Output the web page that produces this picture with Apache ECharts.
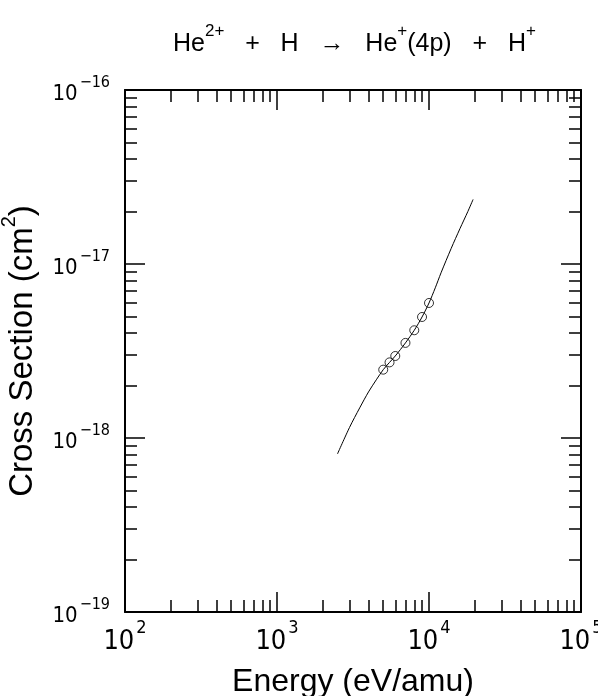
<!DOCTYPE html>
<html>
<head>
<meta charset="utf-8">
<script src="https://cdn.jsdelivr.net/npm/echarts@6/dist/echarts.min.js"></script>
<style>html,body{margin:0;padding:0;background:#fff}#c{width:598px;height:696px}</style>
</head>
<body>
<div id="c"></div>
<script>
// ---- data ----
const energyCurve = [2500, 3000, 3500, 4000, 4500, 5000, 5500, 6000, 7000, 8000, 9000, 10000, 11000, 12000, 14000, 16000, 18000, 19500];
const sigmaCurve = [8.1e-19, 1.15e-18, 1.49e-18, 1.84e-18, 2.16e-18, 2.47e-18, 2.72e-18, 2.96e-18, 3.52e-18, 4.16e-18, 4.96e-18, 5.97e-18, 7.3e-18, 8.9e-18, 1.23e-17, 1.6e-17, 2.0e-17, 2.35e-17];
const energyPts = [5000, 5500, 6000, 7000, 8000, 9000, 10000];
const sigmaPts = [2.47e-18, 2.72e-18, 2.96e-18, 3.52e-18, 4.16e-18, 4.96e-18, 5.97e-18];
const xMajor = [1e2, 1e3, 1e4, 1e5];
const yMajor = [1e-19, 1e-18, 1e-17, 1e-16];
const minorMult = [2, 3, 4, 5, 6, 7, 8, 9];

const FONT = "'Liberation Sans', 'DejaVu Sans', sans-serif";
const NARROW = "'Liberation Sans Narrow', 'DejaVu Sans Condensed', 'Liberation Sans', sans-serif";
function minors(majors) {
  const out = [];
  for (let i = 0; i < majors.length - 1; i++) minorMult.forEach(m => out.push(m * majors[i]));
  return out;
}
const xMinor = minors(xMajor);
const yMinor = minors(yMajor);

function expLabel(v) {
  const e = Math.round(Math.log10(v));
  return '{b|10}{e|' + (e < 0 ? '\u2212' + (-e) : String(e)) + '}';
}
const lineStyle = { color: '#000', width: 2 };

function xAxisDef(pos, major, showLabel) {
  return {
    type: 'log', logBase: 10, min: 1e2, max: 1e5, position: pos, gridIndex: 0,
    axisLine: { show: major, lineStyle: lineStyle, onZero: false },
    axisTick: { show: true, inside: true, length: major ? 20 : 12, lineStyle: { color: '#000', width: 1.5 },
      customValues: major ? xMajor : xMinor },
    axisLabel: showLabel ? {
      show: true, customValues: xMajor, margin: 7, formatter: expLabel, fontFamily: NARROW,
      rich: {
        b: { fontSize: 27, lineHeight: 36, verticalAlign: 'bottom', color: '#000', fontFamily: NARROW, padding: [0, 2, 0, 0] },
        e: { fontSize: 18, lineHeight: 26, verticalAlign: 'top', color: '#000', fontFamily: NARROW }
      }
    } : { show: false },
    splitLine: { show: false }, minorTick: { show: false }
  };
}
function yAxisDef(pos, major, showLabel) {
  return {
    type: 'log', logBase: 10, min: 1e-19, max: 1e-16, position: pos, gridIndex: 0,
    axisLine: { show: major, lineStyle: lineStyle, onZero: false },
    axisTick: { show: true, inside: true, length: major ? 20 : 12, lineStyle: { color: '#000', width: 1.5 },
      customValues: major ? yMajor : yMinor },
    axisLabel: showLabel ? {
      show: true, customValues: yMajor, margin: 15, formatter: expLabel, fontFamily: NARROW,
      rich: {
        b: { fontSize: 22, lineHeight: 30, verticalAlign: 'bottom', color: '#000', fontFamily: NARROW, padding: [0, 2, 0, 0] },
        e: { fontSize: 16, lineHeight: 21, verticalAlign: 'top', color: '#000', fontFamily: NARROW }
      }
    } : { show: false },
    splitLine: { show: false }, minorTick: { show: false }
  };
}

const xs = [xAxisDef('bottom', true, true), xAxisDef('bottom', false, false), xAxisDef('top', true, false), xAxisDef('top', false, false)];
xs[0].name = 'Energy (eV/amu)';
xs[0].nameLocation = 'middle';
xs[0].nameGap = 54;
xs[0].nameTextStyle = { fontSize: 32, color: '#000', fontFamily: FONT };

const ys = [yAxisDef('left', true, true), yAxisDef('left', false, false), yAxisDef('right', true, false), yAxisDef('right', false, false)];
ys[0].name = '{n|Cross Section (cm}{s|2}{n|)}';
ys[0].nameLocation = 'middle';
ys[0].nameRotate = 90;
ys[0].nameGap = 86;
ys[0].nameTextStyle = {
  color: '#000', fontFamily: FONT,
  rich: {
    n: { fontSize: 33, lineHeight: 40, verticalAlign: 'bottom', color: '#000', fontFamily: FONT },
    s: { fontSize: 20, lineHeight: 28, verticalAlign: 'top', color: '#000', fontFamily: FONT }
  }
};

const chart = echarts.init(document.getElementById('c'), null, { renderer: 'canvas' });
chart.setOption({
  animation: false,
  backgroundColor: '#fff',
  title: {
    text: '{n|He}{s|2+}{n|   +   H   \u2192   He}{s|+}{n|(4p)   +   H}{s|+}',
    left: 168, top: 18,
    textStyle: {
      fontFamily: FONT, color: '#000', fontWeight: 'normal',
      rich: {
        n: { fontSize: 25, lineHeight: 34, verticalAlign: 'bottom', color: '#000', fontFamily: FONT, fontWeight: 'normal' },
        s: { fontSize: 17, lineHeight: 30, verticalAlign: 'top', color: '#000', fontFamily: FONT, fontWeight: 'normal' }
      }
    }
  },
  grid: { left: 125, right: 17, top: 90, bottom: 84, containLabel: false, outerBoundsMode: 'none' },
  xAxis: xs,
  yAxis: ys,
  series: [
    {
      type: 'line', xAxisIndex: 0, yAxisIndex: 0,
      data: energyCurve.map((e, i) => [e, sigmaCurve[i]]),
      showSymbol: false, smooth: 0.3,
      lineStyle: { color: '#000', width: 1 }
    },
    {
      type: 'scatter', xAxisIndex: 0, yAxisIndex: 0,
      data: energyPts.map((e, i) => [e, sigmaPts[i]]),
      symbol: 'circle', symbolSize: 9,
      itemStyle: { color: 'rgba(0,0,0,0)', borderColor: '#000', borderWidth: 1 }
    }
  ]
});
</script>
</body>
</html>
